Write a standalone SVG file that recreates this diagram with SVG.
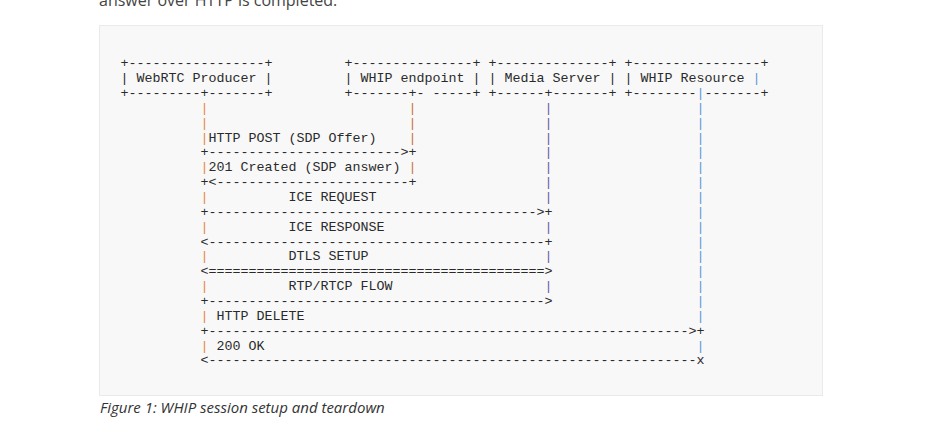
<svg xmlns="http://www.w3.org/2000/svg" width="928" height="432" viewBox="0 0 928 432">
<style>
.t{font-family:"Liberation Mono","DejaVu Sans Mono",monospace;font-size:13.333px;fill:#2a2a2a;white-space:pre}
.p{fill:#e88a3c}.e{fill:#c8763a}.m{fill:#6a58a8}.r{fill:#5b9bd8}
.body{font-family:"Open Sans","Noto Sans",sans-serif;font-size:16px;fill:#444}
.cap{font-family:"Open Sans","Noto Sans",sans-serif;font-size:15px;font-style:italic;fill:#333}
</style>
<rect width="928" height="432" fill="#fff"/>
<text class="body" x="99" y="6">answer over HTTP is completed.</text>
<rect x="99.5" y="25.5" width="723" height="370" fill="#f8f8f8" stroke="#eaeaea"/>

<g id="producer" class="t" xml:space="preserve">
<text x="120.5" y="67.2">+-----------------+</text>
<text x="120.5" y="82.1">| WebRTC Producer |</text>
<text x="120.5" y="97.0">+---------+-------+</text>
</g>
<g id="whip-endpoint" class="t" xml:space="preserve">
<text x="344.5" y="67.2">+---------------+</text>
<text x="344.5" y="82.1">| WHIP endpoint |</text>
<text x="344.5" y="97.0">+-------+- -----+</text>
</g>
<g id="media-server" class="t" xml:space="preserve">
<text x="488.5" y="67.2">+--------------+</text>
<text x="488.5" y="82.1">| Media Server |</text>
<text x="488.5" y="97.0">+------+-------+</text>
</g>
<g id="whip-resource" class="t" xml:space="preserve">
<text x="624.5" y="67.2">+----------------+</text>
<text x="624.5" y="82.1">| WHIP Resource  <tspan class="r">|</tspan></text>
<text x="624.5" y="97.0">+--------<tspan class="r">|</tspan>-------+</text>
</g>

<g id="lifelines" class="t">
<text class="p" x="200.5" y="111.8">|</text>
<text class="p" x="200.5" y="126.7">|</text>
<text class="p" x="200.5" y="141.5">|</text>
<text class="p" x="200.5" y="171.2">|</text>
<text class="p" x="200.5" y="201.0">|</text>
<text class="p" x="200.5" y="230.7">|</text>
<text class="p" x="200.5" y="260.4">|</text>
<text class="p" x="200.5" y="290.1">|</text>
<text class="p" x="200.5" y="319.8">|</text>
<text class="p" x="200.5" y="349.6">|</text>
<text class="e" x="408.5" y="111.8">|</text>
<text class="e" x="408.5" y="126.7">|</text>
<text class="e" x="408.5" y="141.5">|</text>
<text class="e" x="408.5" y="171.2">|</text>
<text class="m" x="544.5" y="111.8">|</text>
<text class="m" x="544.5" y="126.7">|</text>
<text class="m" x="544.5" y="141.5">|</text>
<text class="m" x="544.5" y="156.4">|</text>
<text class="m" x="544.5" y="171.2">|</text>
<text class="m" x="544.5" y="186.1">|</text>
<text class="m" x="544.5" y="201.0">|</text>
<text class="m" x="544.5" y="230.7">|</text>
<text class="m" x="544.5" y="260.4">|</text>
<text class="m" x="544.5" y="290.1">|</text>
<text class="r" x="696.5" y="111.8">|</text>
<text class="r" x="696.5" y="126.7">|</text>
<text class="r" x="696.5" y="141.5">|</text>
<text class="r" x="696.5" y="156.4">|</text>
<text class="r" x="696.5" y="171.2">|</text>
<text class="r" x="696.5" y="186.1">|</text>
<text class="r" x="696.5" y="201.0">|</text>
<text class="r" x="696.5" y="215.8">|</text>
<text class="r" x="696.5" y="230.7">|</text>
<text class="r" x="696.5" y="245.5">|</text>
<text class="r" x="696.5" y="260.4">|</text>
<text class="r" x="696.5" y="275.2">|</text>
<text class="r" x="696.5" y="290.1">|</text>
<text class="r" x="696.5" y="305.0">|</text>
<text class="r" x="696.5" y="319.8">|</text>
<text class="r" x="696.5" y="349.6">|</text>
</g>

<g id="connectors" class="t" xml:space="preserve">
<text x="208.5" y="141.5">HTTP POST (SDP Offer)</text>
<text x="200.5" y="156.4">+------------------------&gt;+</text>
<text x="208.5" y="171.2">201 Created (SDP answer)</text>
<text x="200.5" y="186.1">+&lt;------------------------+</text>
<text x="288.5" y="201.0">ICE REQUEST</text>
<text x="200.5" y="215.8">+-----------------------------------------&gt;+</text>
<text x="288.5" y="230.7">ICE RESPONSE</text>
<text x="200.5" y="245.5">&lt;------------------------------------------+</text>
<text x="288.5" y="260.4">DTLS SETUP</text>
<text x="200.5" y="275.2">&lt;==========================================&gt;</text>
<text x="288.5" y="290.1">RTP/RTCP FLOW</text>
<text x="200.5" y="305.0">+------------------------------------------&gt;</text>
<text x="216.5" y="319.8">HTTP DELETE</text>
<text x="200.5" y="334.7">+------------------------------------------------------------&gt;+</text>
<text x="216.5" y="349.6">200 OK</text>
<text x="200.5" y="364.4">&lt;-------------------------------------------------------------x</text>
</g>

<text class="cap" x="100" y="413">Figure 1: WHIP session setup and teardown</text>
</svg>
